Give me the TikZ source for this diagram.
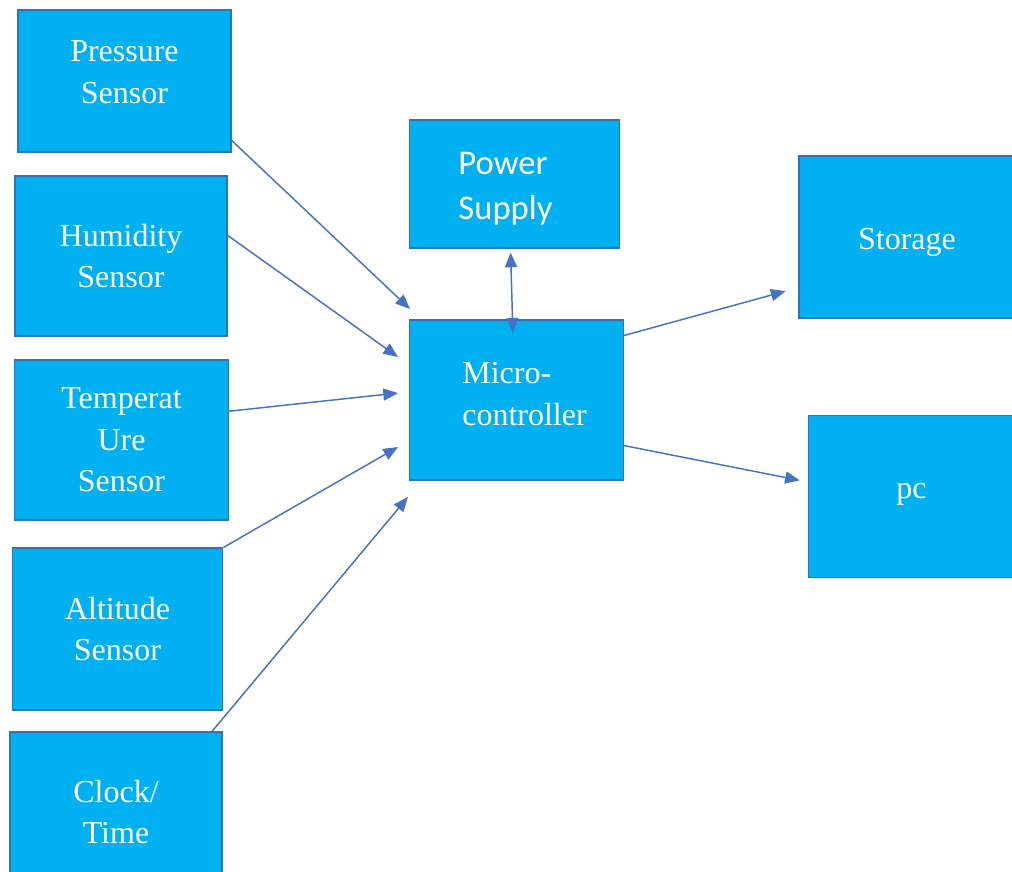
\documentclass[tikz,border=0pt]{standalone}
\usepackage{fontspec}
\setmainfont{Liberation Serif}
\newfontfamily\calibri{Carlito}
\usetikzlibrary{arrows.meta}
\definecolor{boxfill}{HTML}{00B0F0}
\definecolor{boxline}{HTML}{2E75B6}
\definecolor{arrowblue}{HTML}{4472C4}
\begin{document}
\begin{tikzpicture}[x=0.75pt,y=-0.75pt,
    blockbox/.style={draw=boxline,line width=0.8pt,fill=boxfill,text=white,
      align=center,font=\fontsize{24}{31}\selectfont,inner sep=0pt},
    link/.style={draw=arrowblue,line width=1.1pt,
      -{Triangle[length=11pt,width=9pt]}}]
  \clip (0,0) rectangle (1012,871);
  % sensors on the left
  \node[blockbox,minimum width=159.75pt,minimum height=106.5pt,text depth=13.5pt] (pressure) at (124.5,81) {Pressure\\Sensor};
  \node[blockbox,minimum width=159pt,minimum height=120pt] (humidity) at (121,256) {Humidity\\Sensor};
  \node[blockbox,minimum width=160pt,minimum height=120pt] (temp) at (121.5,440) {Temperat\\Ure\\Sensor};
  \node[blockbox,minimum width=158pt,minimum height=121.5pt] (altitude) at (117.5,629) {Altitude\\Sensor};
  \node[blockbox,minimum width=159pt,minimum height=120pt] (clock) at (116,812) {Clock/\\Time};
  % middle
  \node[blockbox,minimum width=157pt,minimum height=96pt,font=\calibri\fontsize{26}{34}\selectfont,align=left,text height=58pt] (power) at (514.5,184) {Power\hspace*{13.5pt}\\Supply\hspace*{13.5pt}};
  \node[blockbox,minimum width=160pt,minimum height=120pt,align=left,text height=38pt] (micro) at (516.5,400) {\hspace*{12pt}Micro-\\\hspace*{12pt}controller};
  % outputs
  \node[blockbox,minimum width=162pt,minimum height=121.5pt,text height=24pt] (storage) at (907,237) {Storage};
  \node[blockbox,minimum width=155pt,minimum height=122pt,text depth=9pt] (pc) at (911.5,496.5) {pc};
  % connectors
  \coordinate (tipP) at (410,309);
  \coordinate (tipH) at (398,357);
  \coordinate (tipT) at (398,393);
  \coordinate (tipA) at (398,447);
  \coordinate (tipC) at (408,497);
  \draw[link] (pressure.-29) -- (tipP);
  \draw[link] (humidity.11) -- (tipH);
  \draw[link] (temp.15) -- (tipT);
  \draw[link] (altitude.north east) -- (tipA);
  \draw[link] (clock.40) -- (tipC);
  \draw[link,{Triangle[length=11pt,width=9pt]}-{Triangle[length=11pt,width=9pt]},
    shorten <=3pt,shorten >=-10pt] ([xshift=-3pt]power.south) -- ([xshift=-3pt]micro.north);
  \draw[link,shorten >=10pt] (micro.31) -- (storage.205);
  \draw[link,shorten >=6pt] (micro.-23) -- (pc.172);
\end{tikzpicture}
\end{document}
